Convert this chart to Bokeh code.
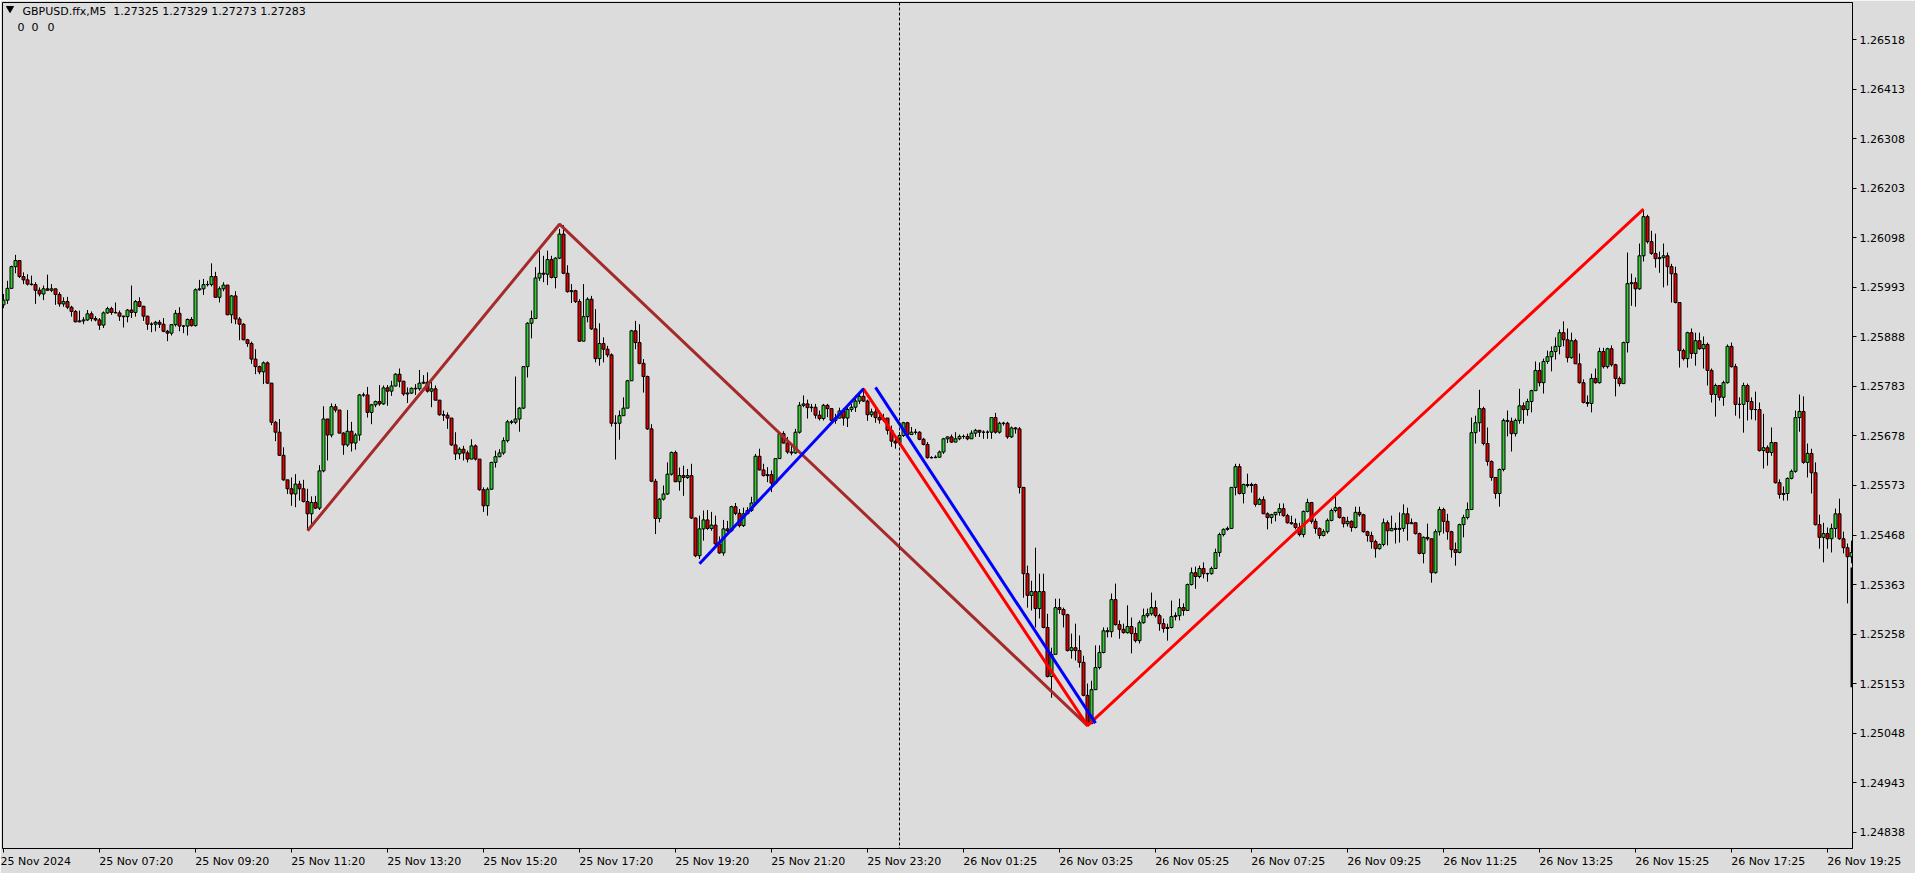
import numpy as np
from bokeh.plotting import figure
from bokeh.models import Range1d, FixedTicker, PrintfTickFormatter, Span, Label, CustomJSTickFormatter
from bokeh.embed import file_html
from bokeh.resources import INLINE

# ---------------- data (prices in points, 1 point = 0.00001) ----------------
first_open_pts = 125956
close_pts = [
125966,125991,126037,126050,126016,126009,126000,125999,125987,125979,
125990,125987,125990,125978,125958,125963,125951,125942,125920,125922,
125924,125937,125927,125924,125913,125939,125948,125940,125939,125932,
125931,125945,125940,125963,125953,125932,125915,125915,125919,125915,
125900,125896,125914,125938,125911,125911,125925,125912,125988,125990,
125999,125999,126016,125972,125990,125998,125935,125975,125926,125915,
125882,125874,125841,125825,125814,125833,125790,125707,125686,125637,
125585,125566,125555,125576,125566,125539,125513,125537,125525,125604,
125714,125680,125740,125733,125684,125659,125688,125663,125680,125765,
125765,125728,125744,125751,125746,125780,125773,125784,125809,125794,
125767,125769,125779,125778,125790,125792,125773,125778,125754,125723,
125722,125716,125659,125640,125650,125642,125629,125657,125629,125564,
125530,125565,125622,125634,125642,125668,125708,125707,125714,125737,
125825,125917,125927,126013,126023,126021,126052,126014,126055,126106,
126023,125984,125986,125963,125879,125931,125968,125905,125842,125874,
125862,125850,125705,125705,125721,125737,125795,125901,125876,125832,
125804,125693,125582,125503,125544,125555,125597,125643,125581,125594,
125590,125594,125504,125424,125481,125500,125482,125489,125449,125430,
125481,125477,125528,125514,125488,125513,125520,125536,125635,125606,
125594,125596,125578,125630,125683,125663,125644,125642,125686,125743,
125746,125738,125739,125722,125715,125743,125736,125711,125716,125731,
125716,125734,125739,125752,125762,125752,125723,125729,125717,125712,
125716,125690,125667,125663,125679,125706,125681,125686,125686,125671,
125660,125632,125632,125633,125644,125672,125676,125665,125672,125677,
125677,125672,125684,125690,125686,125686,125686,125717,125686,125705,
125705,125676,125695,125693,125569,125386,125340,125348,125312,125348,
125272,125168,125215,125314,125310,125299,125223,125229,125223,125198,
125128,125068,125140,125187,125219,125265,125263,125331,125278,125268,
125261,125274,125259,125244,125282,125297,125301,125314,125297,125280,
125270,125272,125295,125297,125314,125308,125363,125388,125380,125397,
125386,125386,125397,125431,125469,125480,125482,125569,125613,125556,
125575,125573,125575,125533,125543,125513,125505,125511,125516,125524,
125509,125494,125492,125484,125469,125518,125537,125497,125482,125467,
125475,125499,125520,125526,125505,125492,125497,125484,125516,125511,
125475,125467,125454,125439,125448,125494,125477,125482,125480,125482,
125513,125492,125494,125471,125429,125463,125460,125388,125475,125522,
125497,125475,125437,125431,125490,125505,125522,125685,125706,125736,
125662,125624,125590,125556,125607,125711,125709,125683,125711,125742,
125734,125751,125774,125817,125791,125836,125846,125857,125868,125897,
125882,125844,125880,125831,125791,125749,125747,125800,125791,125857,
125825,125863,125829,125800,125789,125876,126001,126003,125990,126060,
126143,126090,126065,126054,126056,126060,126037,126022,125961,125859,
125842,125897,125853,125880,125863,125872,125817,125766,125785,125760,
125791,125868,125825,125745,125745,125785,125751,125734,125734,125647,
125653,125643,125664,125579,125554,125556,125588,125603,125717,125730,
125622,125641,125600,125490,125463,125471,125460,125482,125513,125460,
125441,125422,125431]
high_pts = [
125979,126007,126039,126062,126050,126025,126021,126018,126004,125993,
125997,126020,126000,125990,125983,125972,125973,125954,125945,125944,
125930,125945,125942,125932,125928,125942,125952,125952,125961,125944,
125933,125947,125997,125966,125972,125954,125933,125919,125922,125924,
125928,125903,125915,125945,125951,125913,125927,125930,125991,126009,
126011,126007,126044,126026,125995,126004,125993,125977,125985,125930,
125917,125884,125878,125862,125827,125836,125836,125790,125710,125714,
125654,125583,125590,125597,125583,125585,125566,125550,125551,125616,
125741,125714,125747,125746,125733,125686,125733,125708,125684,125767,
125770,125782,125746,125753,125786,125785,125786,125795,125811,125821,
125795,125781,125781,125788,125818,125807,125813,125793,125785,125754,
125732,125728,125715,125686,125654,125657,125647,125671,125660,125626,
125569,125569,125623,125647,125650,125675,125712,125712,125804,125739,
125826,125919,125944,126036,126078,126060,126071,126060,126057,126117,
126125,126040,126000,125988,125968,126000,125972,125975,125947,125917,
125887,125869,125853,125722,125732,125760,125797,125903,125922,125915,
125841,125806,125703,125587,125546,125573,125622,125645,125647,125611,
125615,125608,125619,125505,125509,125520,125521,125517,125509,125465,
125500,125498,125530,125536,125523,125526,125527,125549,125640,125651,
125619,125612,125605,125630,125686,125688,125676,125658,125693,125750,
125764,125755,125746,125746,125732,125746,125746,125736,125725,125738,
125737,125743,125746,125764,125767,125780,125755,125736,125743,125729,
125725,125715,125700,125676,125686,125708,125708,125697,125693,125688,
125674,125665,125635,125637,125647,125674,125677,125681,125686,125681,
125681,125683,125690,125693,125690,125690,125690,125718,125727,125708,
125708,125708,125698,125697,125697,125569,125403,125371,125441,125386,
125386,125301,125229,125333,125333,125314,125301,125259,125280,125255,
125212,125153,125159,125234,125234,125272,125272,125344,125365,125287,
125280,125319,125293,125272,125287,125312,125312,125346,125329,125301,
125291,125280,125329,125304,125333,125323,125365,125399,125401,125403,
125410,125388,125401,125439,125473,125482,125486,125569,125619,125619,
125577,125598,125579,125577,125547,125550,125516,125513,125516,125535,
125535,125513,125509,125503,125494,125520,125545,125537,125503,125484,
125480,125503,125524,125556,125528,125507,125507,125499,125528,125528,
125513,125477,125475,125458,125450,125503,125499,125509,125494,125516,
125533,125526,125503,125494,125473,125465,125492,125460,125480,125528,
125526,125513,125477,125452,125492,125511,125537,125717,125721,125776,
125740,125696,125626,125590,125609,125715,125732,125717,125715,125778,
125749,125757,125776,125836,125834,125842,125859,125868,125887,125904,
125921,125906,125897,125884,125853,125798,125764,125810,125821,125865,
125865,125865,125870,125831,125804,125878,126067,126022,126014,126086,
126158,126147,126113,126107,126069,126086,126067,126043,126037,125961,
125863,125899,125906,125897,125897,125889,125876,125821,125789,125785,
125795,125872,125876,125831,125760,125791,125789,125760,125772,125749,
125725,125658,125696,125664,125586,125571,125590,125607,125732,125766,
125762,125662,125651,125622,125511,125494,125484,125492,125524,125545,
125475,125450,125456]
low_pts = [
125949,125958,125991,126023,126013,126000,125997,125997,125958,125974,
125966,125986,125983,125956,125952,125952,125947,125931,125919,125919,
125915,125922,125921,125921,125903,125907,125937,125935,125938,125922,
125908,125919,125928,125931,125951,125922,125903,125898,125900,125907,
125898,125879,125891,125910,125900,125896,125891,125910,125910,125986,
125977,125995,125995,125972,125961,125985,125934,125917,125915,125881,
125881,125867,125831,125809,125809,125788,125788,125701,125667,125636,
125583,125555,125530,125527,125541,125537,125479,125491,125523,125521,
125601,125626,125675,125728,125684,125638,125655,125645,125649,125668,
125761,125717,125703,125739,125742,125744,125742,125763,125783,125781,
125763,125748,125767,125765,125774,125788,125770,125739,125753,125721,
125710,125693,125657,125627,125629,125626,125622,125629,125626,125562,
125517,125509,125564,125611,125633,125638,125664,125703,125703,125687,
125735,125802,125885,125926,126007,126004,125998,126012,125991,126053,
126021,125982,125960,125960,125878,125880,125919,125903,125834,125827,
125834,125845,125698,125628,125670,125721,125737,125795,125862,125830,
125770,125691,125580,125470,125495,125541,125553,125594,125580,125562,
125551,125587,125502,125421,125417,125456,125479,125477,125447,125428,
125424,125474,125474,125510,125484,125485,125513,125517,125533,125605,
125592,125580,125559,125577,125630,125662,125640,125637,125640,125683,
125739,125715,125729,125715,125711,125711,125718,125708,125704,125715,
125700,125697,125729,125729,125746,125750,125710,125718,125706,125704,
125708,125681,125655,125651,125658,125676,125677,125683,125681,125669,
125658,125630,125630,125631,125632,125640,125663,125663,125667,125669,
125672,125669,125672,125676,125676,125672,125672,125672,125683,125683,
125700,125672,125674,125683,125556,125335,125314,125308,125272,125291,
125270,125166,125123,125229,125301,125272,125221,125206,125202,125187,
125126,125064,125068,125140,125183,125217,125251,125251,125276,125248,
125259,125259,125217,125240,125238,125280,125293,125297,125293,125265,
125261,125244,125270,125287,125287,125297,125308,125361,125354,125376,
125376,125369,125384,125397,125422,125465,125477,125482,125552,125554,
125535,125569,125558,125528,125533,125513,125480,125492,125497,125509,
125507,125492,125490,125480,125465,125463,125516,125492,125471,125460,
125465,125471,125497,125516,125503,125484,125486,125475,125482,125507,
125473,125454,125439,125420,125437,125444,125446,125477,125450,125452,
125475,125456,125492,125469,125427,125408,125456,125367,125386,125467,
125471,125458,125420,125403,125429,125463,125501,125522,125662,125687,
125658,125615,125583,125545,125528,125603,125677,125645,125677,125704,
125704,125721,125728,125776,125783,125768,125831,125815,125840,125851,
125868,125834,125842,125831,125789,125747,125740,125728,125789,125789,
125821,125821,125825,125762,125783,125789,125855,125954,125952,125988,
126048,126086,126062,126035,126024,125993,125997,125961,125959,125823,
125838,125823,125842,125827,125861,125821,125785,125749,125719,125753,
125742,125789,125823,125721,125715,125685,125711,125713,125711,125645,
125609,125615,125636,125577,125545,125541,125541,125586,125600,125687,
125619,125590,125556,125488,125439,125410,125439,125431,125463,125458,
125429,125323,125408]

# ZigZag-type indicator lines: (bar index, price in points)
zz_brown_bar = [76, 139, 271]
zz_brown_pts = [125477, 126127, 125064]
zz_red_bar = [215, 271, 410]
zz_red_pts = [125778, 125064, 126159]
zz_blue_up_bar = [174, 215]
zz_blue_up_pts = [125407, 125778]
zz_blue_dn_bar = [218, 273]
zz_blue_dn_pts = [125781, 125069]

# thick bar on the right edge (current bar marker)
edge_bar_top_pts = 125399
edge_bar_bottom_pts = 125145

# period separator (dashed vertical line) bar index
separator_bar = 224

# axis ticks
xtick_bars = [0, 24, 48, 72, 96, 120, 144, 168, 192, 216,
              240, 264, 288, 312, 336, 360, 384, 408, 432, 456]
xtick_labels = ["25 Nov 2024", "25 Nov 07:20", "25 Nov 09:20", "25 Nov 11:20", "25 Nov 13:20",
                "25 Nov 15:20", "25 Nov 17:20", "25 Nov 19:20", "25 Nov 21:20", "25 Nov 23:20",
                "26 Nov 01:25", "26 Nov 03:25", "26 Nov 05:25", "26 Nov 07:25", "26 Nov 09:25",
                "26 Nov 11:25", "26 Nov 13:25", "26 Nov 15:25", "26 Nov 17:25", "26 Nov 19:25"]
ytick_values = [1.24838, 1.24943, 1.25048, 1.25153, 1.25258, 1.25363, 1.25468, 1.25573, 1.25678,
                1.25783, 1.25888, 1.25993, 1.26098, 1.26203, 1.26308, 1.26413, 1.26518]

header_text = "GBPUSD.ffx,M5\u00a0\u00a01.27325 1.27329 1.27273 1.27283"

# ---------------- build ----------------
PT = 1e-5
n = len(close_pts)
assert len(high_pts) == n and len(low_pts) == n, (len(close_pts), len(high_pts), len(low_pts))

close = np.array(close_pts, dtype=float) * PT
high = np.array(high_pts, dtype=float) * PT
low = np.array(low_pts, dtype=float) * PT
open_ = np.array([first_open_pts] + close_pts[:-1], dtype=float) * PT
bars = np.arange(n)

BG = "#DCDCDC"
BULL = "#32CD32"
BEAR = "#E00000"
FONT = "DejaVu Sans"

X0, X1 = -0.25, 462.25
Y0, Y1 = 1.248033, 1.265971
FL, FT = 2, 2          # frame left / top offsets in page pixels
FW, FH = 1850, 846

p = figure(frame_width=FW, frame_height=FH,
           x_range=Range1d(X0, X1), y_range=Range1d(Y0, Y1),
           y_axis_location="right", toolbar_location=None, output_backend="svg",
           min_border_left=FL, min_border_top=FT, min_border_right=63, min_border_bottom=25)
p.background_fill_color = BG
p.border_fill_color = BG
p.outline_line_color = "black"
p.outline_line_width = 1
p.xgrid.visible = False
p.ygrid.visible = False

# x axis: labels start at their tick (terminal style) -> pad with no-break spaces
# of about the label's own width so the centred box puts the text right of the tick
NBSP = "\u00a0"
shown = [xtick_labels[0]] + [NBSP * 21 + t for t in xtick_labels[1:]]
p.xaxis.ticker = FixedTicker(ticks=xtick_bars)
p.xaxis.formatter = CustomJSTickFormatter(args=dict(labels=shown), code="return labels[index];")
p.xaxis.major_tick_out = 4
p.xaxis.major_tick_in = 0
p.xaxis.minor_tick_out = 0
p.xaxis.minor_tick_in = 0
p.xaxis.major_label_standoff = 2
# y axis
p.yaxis.ticker = FixedTicker(ticks=ytick_values)
p.yaxis.formatter = PrintfTickFormatter(format="%.5f")
p.yaxis.major_tick_out = 4
p.yaxis.major_tick_in = 0
p.yaxis.minor_tick_out = 0
p.yaxis.minor_tick_in = 0
p.yaxis.major_label_standoff = 3
for ax in (p.xaxis, p.yaxis):
    ax.axis_line_color = "black"
    ax.major_tick_line_color = "black"
    ax.major_label_text_font = FONT
    ax.major_label_text_font_size = "11px"
    ax.major_label_text_color = "black"

# candles
colors = [BULL if c > o else BEAR for o, c in zip(open_, close)]
p.segment(x0=bars, y0=high, x1=bars, y1=low, line_color="black", line_width=1)
p.vbar(x=bars, width=0.75, top=np.maximum(open_, close), bottom=np.minimum(open_, close),
       fill_color=colors, line_color="black", line_width=1)

# separator
p.add_layout(Span(location=separator_bar, dimension="height", line_color="black",
                  line_dash="3 2", line_width=1))

# indicator lines
p.line(zz_brown_bar, np.array(zz_brown_pts) * PT, line_color="#A52A2A", line_width=3)
p.line(zz_red_bar, np.array(zz_red_pts) * PT, line_color="#FF0000", line_width=3)
p.line(zz_blue_up_bar, np.array(zz_blue_up_pts) * PT, line_color="#0000FF", line_width=3)
p.line(zz_blue_dn_bar, np.array(zz_blue_dn_pts) * PT, line_color="#0000FF", line_width=3)

# thick mark on the right edge
p.segment(x0=[X1 - 0.12], y0=[edge_bar_top_pts * PT], x1=[X1 - 0.12], y1=[edge_bar_bottom_pts * PT],
          line_color="black", line_width=3)

# page pixel -> data helpers for annotation placement
def sx(px):
    return X0 + (px - FL) / FW * (X1 - X0)

def sy(py):
    return Y1 - (py - FT) / FH * (Y1 - Y0)

# header texts
p.scatter([sx(9.5)], [sy(8)], marker="inverted_triangle", size=7, color="black")
p.add_layout(Label(x=sx(22), y=sy(11), text=header_text, text_font=FONT, text_font_size="11px",
                   text_baseline="middle", text_align="left", text_color="black"))
for px in (17, 31, 47):
    p.add_layout(Label(x=sx(px), y=sy(26), text="0", text_font=FONT, text_font_size="11px",
                       text_baseline="middle", text_align="left", text_color="black"))

open("out.html", "w").write(file_html(p, INLINE))
